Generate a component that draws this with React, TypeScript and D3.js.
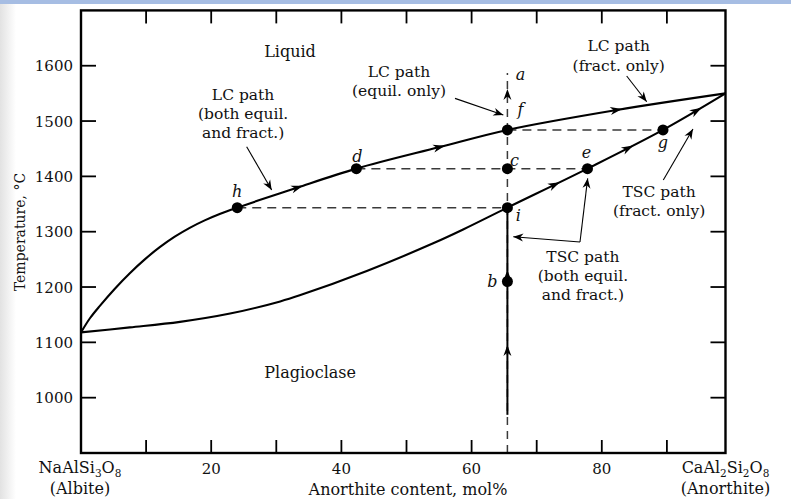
import React, { useEffect, useRef } from "react";
import * as d3 from "d3";

const W = 791;
const H = 499;

// axis ticks
const xTicks = [10, 20, 30, 40, 50, 60, 70, 80, 90];
const xTickLabels = [20, 40, 60, 80];
const yTicks = [1000, 1100, 1200, 1300, 1400, 1500, 1600];
const X_END = 99; // composition at the right frame (pure anorthite end in the figure)

// phase boundaries [mol% An, °C]
const liquidus: [number, number][] = [
  [0, 1118], [1.4, 1144], [2.9, 1166], [5.2, 1197], [7.5, 1225], [9.8, 1250], [12.1, 1272],
  [14.4, 1291], [16.7, 1307], [19.0, 1320.5], [21.4, 1332.5], [24, 1343.5], [30.6, 1369.5],
  [33.3, 1380], [42.3, 1414], [55.1, 1453], [65.5, 1484], [82.3, 1520], [99, 1550],
];
const solidus: [number, number][] = [
  [0, 1118], [7.5, 1127], [15.2, 1137], [22.9, 1152], [30.6, 1174], [33.6, 1185],
  [43.9, 1229], [54.1, 1279], [58.7, 1304], [65.5, 1343.5], [77.8, 1414], [89.4, 1484],
  [99, 1550],
];

// labelled points
const pointNames = ["h", "d", "f", "c", "i", "b", "e", "g"];
const pointX = [24, 42.3, 65.5, 65.5, 65.5, 65.5, 77.8, 89.4];
const pointT = [1343.5, 1414, 1484, 1414, 1343.5, 1210, 1414, 1484];

// dashed isotherms between point pairs
const tieLines: [string, string][] = [["h", "i"], ["d", "e"], ["f", "g"]];

// bulk composition path
const bulkX = 65.5;
const bulkDashedT: [number, number] = [900, 1587];
const bulkSolidT: [number, number] = [969, 1343.5];
const bulkArrowTipT = [1558, 1231, 1095];
const topLabelT = 1574; // "a"

// flow arrows along the curves (mol% An)
const liquidusArrowX = [33.3, 55.1, 82.3];
const solidusArrowX = [72.8, 84.1, 94.6];

// region labels
const regionText = ["Liquid", "Plagioclase"];
const regionX = [32.1, 35.2];
const regionT = [1616, 1035.6];

// annotation blocks
const noteLines: string[][] = [
  ["LC path", "(both equil.", "and fract.)"],
  ["LC path", "(equil. only)"],
  ["LC path", "(fract. only)"],
  ["TSC path", "(fract. only)"],
  ["TSC path", "(both equil.", "and fract.)"],
];
const noteX = [24.9, 48.85, 82.6, 88.8, 77.1];
const noteT: number[][] = [
  [1538, 1503.7, 1469.4],
  [1579.6, 1545.3],
  [1626.6, 1590.5],
  [1362.7, 1328.4],
  [1245.2, 1210.9, 1176.5],
];

// pointer arrows: from -> to, in data units
const pointerFrom: [number, number][] = [
  [25.45, 1453.6], [57.45, 1541], [83.82, 1581.4], [89.45, 1393.4], [76.65, 1281.4], [76.65, 1281.4],
];
const pointerTo: [number, number][] = [
  [29.29, 1375.3], [64.87, 1510.9], [86.9, 1534.9], [94.0, 1485.6], [66.4, 1290.9], [77.83, 1396.5],
];

export default function App() {
  const ref = useRef<SVGSVGElement | null>(null);

  useEffect(() => {
    const svg = d3.select(ref.current);
    svg.selectAll("*").remove();

    const x = d3.scaleLinear().domain([0, 100]).range([81, 732]);
    const y = d3.scaleLinear().domain([900, 1700]).range([453, 10.4]);
    const serif = "'DejaVu Serif', serif";

    // background
    svg.append("rect").attr("width", W).attr("height", H).attr("fill", "#fff");
    const defs = svg.append("defs");
    const grad = defs.append("linearGradient").attr("id", "lg").attr("x1", 0).attr("x2", 1);
    grad.append("stop").attr("offset", 0).attr("stop-color", "#e2e2e2");
    grad.append("stop").attr("offset", 1).attr("stop-color", "#ffffff");
    svg.append("rect").attr("x", 0).attr("y", 0).attr("width", 16).attr("height", H).attr("fill", "url(#lg)");
    svg.append("rect").attr("x", 0).attr("y", 0).attr("width", W).attr("height", 4).attr("fill", "#a6bde3");

    const x0 = x(0), x1 = x(X_END), yTop = y(1700), yBot = y(900);

    // dashed isotherms
    const idx = (n: string) => pointNames.indexOf(n);
    tieLines.forEach(([a, b]) => {
      const ia = idx(a), ib = idx(b);
      svg.append("line")
        .attr("x1", x(pointX[ia])).attr("x2", x(pointX[ib]))
        .attr("y1", y(pointT[ia])).attr("y2", y(pointT[ia]))
        .attr("stroke", "#3a3a3a").attr("stroke-width", 1.5).attr("stroke-dasharray", "9,6");
    });

    // bulk composition dashed vertical
    svg.append("line")
      .attr("x1", x(bulkX)).attr("x2", x(bulkX))
      .attr("y1", y(bulkDashedT[0])).attr("y2", y(bulkDashedT[1]))
      .attr("stroke", "#3a3a3a").attr("stroke-width", 1.5).attr("stroke-dasharray", "8,6");
    svg.append("line")
      .attr("x1", x(bulkX)).attr("x2", x(bulkX))
      .attr("y1", y(bulkSolidT[0])).attr("y2", y(bulkSolidT[1]))
      .attr("stroke", "#000").attr("stroke-width", 2);

    // curves
    const line = d3.line<[number, number]>()
      .x((d) => x(d[0])).y((d) => y(d[1]))
      .curve(d3.curveCatmullRom.alpha(0.5));
    const liqPath = svg.append("path").attr("d", line(liquidus)!)
      .attr("fill", "none").attr("stroke", "#000").attr("stroke-width", 2.1);
    const solPath = svg.append("path").attr("d", line(solidus)!)
      .attr("fill", "none").attr("stroke", "#000").attr("stroke-width", 2.1);

    // dart arrowhead
    const dart = (tx: number, ty: number, ang: number, len = 11, hw = 3.8, notch = 3) => {
      const pts: [number, number][] = [[0, 0], [-len, -hw], [-len + notch, 0], [-len, hw]];
      const c = Math.cos(ang), s = Math.sin(ang);
      const p = pts.map(([px, py]) => [tx + px * c - py * s, ty + px * s + py * c]);
      svg.append("path").attr("d", "M" + p.map((q) => q.join(",")).join("L") + "Z").attr("fill", "#000");
    };

    const pointAtX = (path: SVGPathElement, px: number) => {
      const L = path.getTotalLength();
      let lo = 0, hi = L;
      for (let k = 0; k < 40; k++) {
        const mid = (lo + hi) / 2;
        if (path.getPointAtLength(mid).x < px) lo = mid; else hi = mid;
      }
      const p1 = path.getPointAtLength(Math.max(0, lo - 2));
      const p2 = path.getPointAtLength(Math.min(L, lo + 2));
      const ang = Math.atan2(p2.y - p1.y, p2.x - p1.x);
      const p = path.getPointAtLength(lo);
      return { x: p.x, y: p.y, ang };
    };

    liquidusArrowX.forEach((v) => {
      const p = pointAtX(liqPath.node() as SVGPathElement, x(v));
      dart(p.x + 5.5 * Math.cos(p.ang), p.y + 5.5 * Math.sin(p.ang), p.ang, 12, 4, 3.5);
    });
    solidusArrowX.forEach((v) => {
      const p = pointAtX(solPath.node() as SVGPathElement, x(v));
      dart(p.x + 5.5 * Math.cos(p.ang), p.y + 5.5 * Math.sin(p.ang), p.ang, 12, 4, 3.5);
    });
    bulkArrowTipT.forEach((t) => dart(x(bulkX), y(t), -Math.PI / 2, 11, 4, 3.5));

    // pointers
    pointerFrom.forEach((f, k) => {
      const t = pointerTo[k];
      const fx = x(f[0]), fy = y(f[1]), tx = x(t[0]), ty = y(t[1]);
      svg.append("line").attr("x1", fx).attr("y1", fy).attr("x2", tx).attr("y2", ty)
        .attr("stroke", "#000").attr("stroke-width", 1.1);
      dart(tx, ty, Math.atan2(ty - fy, tx - fx), 10, 4, 3);
    });

    // frame
    svg.append("rect").attr("x", x0).attr("y", yTop).attr("width", x1 - x0).attr("height", yBot - yTop)
      .attr("fill", "none").attr("stroke", "#000").attr("stroke-width", 2.4);

    // ticks
    xTicks.forEach((t) => {
      svg.append("line").attr("x1", x(t)).attr("x2", x(t)).attr("y1", yBot).attr("y2", yBot - 13)
        .attr("stroke", "#000").attr("stroke-width", 1.8);
      svg.append("line").attr("x1", x(t)).attr("x2", x(t)).attr("y1", yTop).attr("y2", yTop + 13)
        .attr("stroke", "#000").attr("stroke-width", 1.8);
    });
    yTicks.forEach((t) => {
      svg.append("line").attr("x1", x0).attr("x2", x0 + 15).attr("y1", y(t)).attr("y2", y(t))
        .attr("stroke", "#000").attr("stroke-width", 1.8);
      svg.append("line").attr("x1", x1).attr("x2", x1 - 15).attr("y1", y(t)).attr("y2", y(t))
        .attr("stroke", "#000").attr("stroke-width", 1.8);
      svg.append("text").attr("x", 73).attr("y", y(t) + 5.5).attr("text-anchor", "end")
        .attr("font-family", serif).attr("font-size", 15).attr("fill", "#111").text(String(t));
    });
    xTickLabels.forEach((t) => {
      svg.append("text").attr("x", x(t)).attr("y", 473.5).attr("text-anchor", "middle")
        .attr("font-family", serif).attr("font-size", 15).attr("fill", "#111").text(String(t));
    });

    // end-member labels with subscripts
    const formula = (cx: number, parts: [string, boolean][], sub: string) => {
      const tx = svg.append("text").attr("x", cx).attr("y", 473).attr("text-anchor", "middle")
        .attr("font-family", serif).attr("font-size", 16).attr("fill", "#111");
      parts.forEach(([s, isSub], j) => {
        const prevSub = j > 0 && parts[j - 1][1];
        const dy = isSub ? (prevSub ? 0 : 3.5) : prevSub ? -3.5 : 0;
        tx.append("tspan").attr("dy", dy).attr("font-size", isSub ? 10.5 : 16).text(s);
      });
      svg.append("text").attr("x", cx).attr("y", 494).attr("text-anchor", "middle")
        .attr("font-family", serif).attr("font-size", 16).attr("fill", "#111").text(sub);
    };
    formula(x0 - 1, [["NaAlSi", false], ["3", true], ["O", false], ["8", true]], "(Albite)");
    formula(x1, [["CaAl", false], ["2", true], ["Si", false], ["2", true], ["O", false], ["8", true]], "(Anorthite)");

    svg.append("text").attr("x", 408).attr("y", 495).attr("text-anchor", "middle")
      .attr("font-family", serif).attr("font-size", 16).attr("fill", "#111").text("Anorthite content, mol%");
    svg.append("text").attr("transform", "translate(25,232) rotate(-90)").attr("text-anchor", "middle")
      .attr("font-family", serif).attr("font-size", 14).attr("fill", "#111").text("Temperature, °C");

    // region labels
    regionText.forEach((s, k) => {
      svg.append("text").attr("x", x(regionX[k])).attr("y", y(regionT[k])).attr("text-anchor", "middle")
        .attr("font-family", serif).attr("font-size", 16).attr("fill", "#111").text(s);
    });

    // annotations
    noteLines.forEach((lines, k) => {
      lines.forEach((s, j) => {
        svg.append("text").attr("x", x(noteX[k])).attr("y", y(noteT[k][j])).attr("text-anchor", "middle")
          .attr("font-family", serif).attr("font-size", 15.5).attr("fill", "#111").text(s);
      });
    });

    // points
    const labelOffset: Record<string, [number, number]> = {
      h: [0, -11], d: [1, -7], f: [13, -15], c: [7, -3], i: [11, 13], b: [-15, 6], e: [-1, -11], g: [0, 18],
    };
    pointNames.forEach((n, k) => {
      const px = x(pointX[k]), py = y(pointT[k]);
      svg.append("circle").attr("cx", px).attr("cy", py).attr("r", 5.5).attr("fill", "#000");
      const [dx, dy] = labelOffset[n];
      svg.append("text").attr("x", px + dx).attr("y", py + dy).attr("text-anchor", "middle")
        .attr("font-family", serif).attr("font-style", "italic").attr("font-size", 16)
        .attr("fill", "#111").text(n);
    });
    svg.append("text").attr("x", x(bulkX) + 13).attr("y", y(topLabelT)).attr("text-anchor", "middle")
      .attr("font-family", serif).attr("font-style", "italic").attr("font-size", 16)
      .attr("fill", "#111").text("a");
  }, []);

  return (
    <svg
      ref={ref}
      width={W}
      height={H}
      style={{ position: "absolute", left: 0, top: 0, display: "block" }}
    />
  );
}
